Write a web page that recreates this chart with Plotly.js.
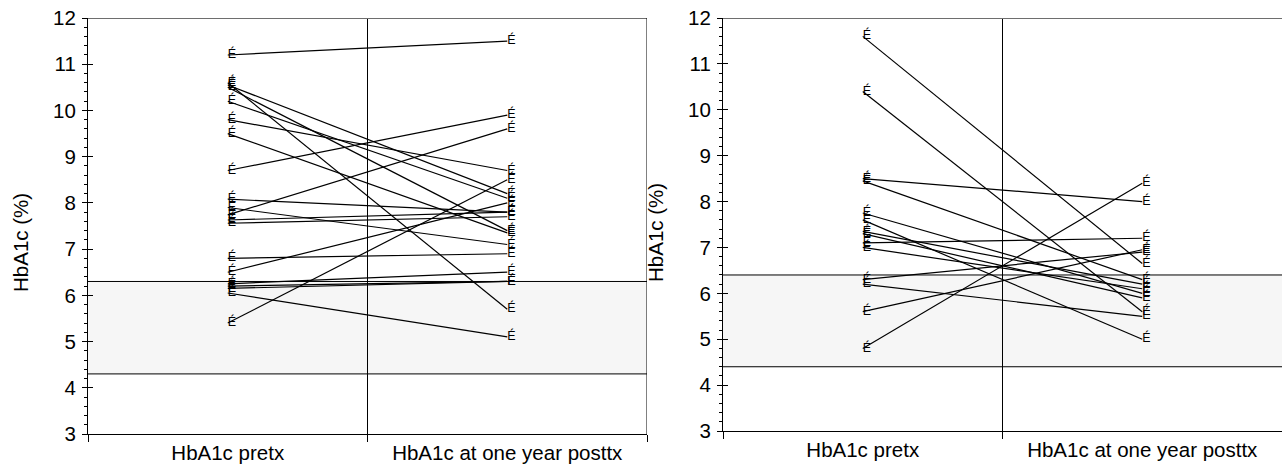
<!DOCTYPE html>
<html><head><meta charset="utf-8">
<script src="https://cdn.plot.ly/plotly-3.0.1.min.js"></script>
<style>html,body{margin:0;padding:0;background:#fff}#chart{width:1282px;height:471px}</style>
</head><body><div id="chart"></div>
<script>
const categories = ["HbA1c pretx", "HbA1c at one year posttx"];
const yTitle = "HbA1c (%)";
const marker = "É";
// Left panel: each subject pre -> post
const leftPre  = [11.2, 10.6, 10.55, 10.5, 10.2, 9.8, 9.5, 8.7, 8.08, 7.9, 7.74, 7.63, 7.56, 6.8, 6.5, 6.25, 6.2, 6.15, 6.05, 5.4];
const leftPost = [11.5, 5.7, 8.2, 7.4, 8.1, 8.7, 7.35, 9.9, 7.8, 7.1, 9.6, 7.8, 7.7, 6.9, 8.0, 6.5, 6.3, 6.3, 5.1, 8.5];
const leftBand = [4.3, 6.3];
// Right panel
const rightPre  = [11.6, 10.4, 8.5, 8.45, 7.75, 7.6, 7.35, 7.3, 7.1, 7.0, 6.3, 6.2, 5.6, 4.8];
const rightPost = [6.65, 5.6, 8.0, 6.3, 6.0, 5.0, 6.2, 5.9, 7.2, 6.1, 6.9, 5.5, 6.95, 8.4];
const rightBand = [4.4, 6.4];
const yRange = [3, 12];

const W = 1282, H = 471;
const FONT = "Liberation Sans, Arial, sans-serif";
const traces = [];
function addPanel(pre, post, xa, ya) {
  for (let i = 0; i < pre.length; i++) {
    traces.push({
      x: [0.5, 1.5], y: [pre[i], post[i]], xaxis: xa, yaxis: ya,
      type: "scatter", mode: "lines+text", text: [marker, marker],
      textposition: "middle right", textfont: {family: FONT, size: 12.5, color: "#000"},
      line: {color: "#000", width: 1.2}, hoverinfo: "skip", showlegend: false, cliponaxis: false
    });
  }
}
addPanel(leftPre, leftPost, "x", "y");
addPanel(rightPre, rightPost, "x2", "y2");

const xdomL = [88 / W, 647 / W], xdomR = [723 / W, 1];
const ydomL = [(H - 434) / H, (H - 18) / H], ydomR = [(H - 431) / H, (H - 18) / H];

function xAxis(dom, anchor) {
  return {domain: dom, anchor: anchor, range: [0, 2], tickvals: [0.5, 1.5], ticktext: categories,
    ticks: "", showline: true, linecolor: "#000", linewidth: 1, showgrid: false, zeroline: false,
    tickfont: {family: FONT, size: 20.5, color: "#000"}, fixedrange: true};
}
function xTickAxis(dom, anchor, over) {
  return {domain: dom, anchor: anchor, overlaying: over, range: [0, 2], tickvals: [0, 1, 2],
    ticks: "outside", ticklen: 7, tickcolor: "#000", showticklabels: false, showline: false,
    showgrid: false, zeroline: false};
}
function yAxis(dom, anchor) {
  return {domain: dom, anchor: anchor, range: yRange, dtick: 1, tick0: 0, ticks: "outside", ticklen: 5,
    tickcolor: "#000", showline: true, linecolor: "#000", linewidth: 1, showgrid: false, zeroline: false,
    minor: {ticks: "outside", ticklen: 3, dtick: 0.2, tickcolor: "#000", showgrid: false},
    tickfont: {family: FONT, size: 20.5, color: "#000"}, ticklabelstandoff: 2};
}
function yTickAxis(dom, anchor, over) {
  return {domain: dom, anchor: anchor, overlaying: over, range: yRange, dtick: 1, tick0: 0,
    ticks: "inside", ticklen: 5, tickcolor: "#000", showticklabels: false, showline: false,
    showgrid: false, zeroline: false};
}
function panelShapes(xr, yr, band, rightBorder) {
  const s = [
    {type: "rect", xref: xr, yref: yr, x0: 0, x1: 2, y0: band[0], y1: band[1], fillcolor: "#f6f6f6",
     line: {width: 0}, layer: "below"},
    {type: "line", xref: xr, yref: yr, x0: 0, x1: 2, y0: band[0], y1: band[0], line: {color: "#000", width: 1}},
    {type: "line", xref: xr, yref: yr, x0: 0, x1: 2, y0: band[1], y1: band[1], line: {color: "#000", width: 1}},
    {type: "line", xref: xr, yref: yr, x0: 1, x1: 1, y0: yRange[0], y1: yRange[1], line: {color: "#000", width: 1}},
    {type: "line", xref: xr, yref: yr, x0: 0, x1: 2, y0: yRange[1], y1: yRange[1], line: {color: "#6e6e6e", width: 2}}
  ];
  if (rightBorder) s.push({type: "line", xref: xr, yref: yr, x0: 2, x1: 2, y0: yRange[0], y1: yRange[1], line: {color: "#000", width: 1}});
  return s;
}
const layout = {
  width: W, height: H, margin: {l: 0, r: 0, t: 0, b: 0}, paper_bgcolor: "#fff", plot_bgcolor: "rgba(0,0,0,0)",
  showlegend: false,
  xaxis: xAxis(xdomL, "y"), yaxis: yAxis(ydomL, "x"),
  xaxis2: xAxis(xdomR, "y2"), yaxis2: yAxis(ydomR, "x2"),
  xaxis3: xTickAxis(xdomL, "y", "x"), xaxis4: xTickAxis(xdomR, "y2", "x2"),
  yaxis3: yTickAxis(ydomL, "x", "y"), yaxis4: yTickAxis(ydomR, "x2", "y2"),
  shapes: panelShapes("x", "y", leftBand, true).concat(panelShapes("x2", "y2", rightBand, false)),
  annotations: [
    {text: yTitle, xref: "paper", yref: "paper", x: 20 / W, y: 1 - 243 / H, textangle: -90, showarrow: false,
     font: {family: FONT, size: 20.5, color: "#000"}, xanchor: "center", yanchor: "middle"},
    {text: yTitle, xref: "paper", yref: "paper", x: 655 / W, y: 1 - 233 / H, textangle: -90, showarrow: false,
     font: {family: FONT, size: 20.5, color: "#000"}, xanchor: "center", yanchor: "middle"}
  ]
};
// invisible traces so the overlay tick axes render
traces.push({x: [0], y: [0], xaxis: "x3", yaxis: "y3", mode: "markers", marker: {opacity: 0}, hoverinfo: "skip", showlegend: false});
traces.push({x: [0], y: [0], xaxis: "x4", yaxis: "y4", mode: "markers", marker: {opacity: 0}, hoverinfo: "skip", showlegend: false});
Plotly.newPlot("chart", traces, layout, {staticPlot: true, displayModeBar: false});
</script></body></html>
